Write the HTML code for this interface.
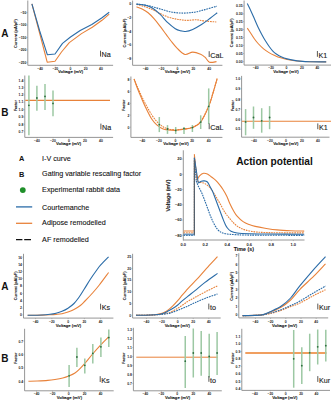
<!DOCTYPE html>
<html><head><meta charset="utf-8"><style>
html,body{margin:0;padding:0;background:#fff;}
body{width:331px;height:400px;overflow:hidden;}
svg{display:block;font-family:"Liberation Sans", sans-serif;}
</style></head><body>
<svg width="331" height="400" viewBox="0 0 331 400">
<rect width="331" height="400" fill="#fff"/>
<path d="M27.8,0.5 V65.3 H113.1" fill="none" stroke="#8a8a8a" stroke-width="0.9"/>
<path d="M26.7,12.6 H27.8" stroke="#8a8a8a" stroke-width="0.5"/>
<text x="26.3" y="13.9" font-size="3.4" text-anchor="end" font-weight="bold" fill="#222222">−50</text>
<path d="M26.7,25.0 H27.8" stroke="#8a8a8a" stroke-width="0.5"/>
<text x="26.3" y="26.3" font-size="3.4" text-anchor="end" font-weight="bold" fill="#222222">−100</text>
<path d="M26.7,37.5 H27.8" stroke="#8a8a8a" stroke-width="0.5"/>
<text x="26.3" y="38.8" font-size="3.4" text-anchor="end" font-weight="bold" fill="#222222">−150</text>
<path d="M26.7,50.0 H27.8" stroke="#8a8a8a" stroke-width="0.5"/>
<text x="26.3" y="51.3" font-size="3.4" text-anchor="end" font-weight="bold" fill="#222222">−200</text>
<path d="M26.7,62.3 H27.8" stroke="#8a8a8a" stroke-width="0.5"/>
<text x="26.3" y="63.6" font-size="3.4" text-anchor="end" font-weight="bold" fill="#222222">−250</text>
<path d="M40.1,65.3 V66.39999999999999" stroke="#8a8a8a" stroke-width="0.5"/>
<text x="40.1" y="69.6" font-size="3.4" text-anchor="middle" font-weight="bold" fill="#222222">−40</text>
<path d="M55.3,65.3 V66.39999999999999" stroke="#8a8a8a" stroke-width="0.5"/>
<text x="55.3" y="69.6" font-size="3.4" text-anchor="middle" font-weight="bold" fill="#222222">−20</text>
<path d="M70.5,65.3 V66.39999999999999" stroke="#8a8a8a" stroke-width="0.5"/>
<text x="70.5" y="69.6" font-size="3.4" text-anchor="middle" font-weight="bold" fill="#222222">0</text>
<path d="M85.7,65.3 V66.39999999999999" stroke="#8a8a8a" stroke-width="0.5"/>
<text x="85.7" y="69.6" font-size="3.4" text-anchor="middle" font-weight="bold" fill="#222222">20</text>
<path d="M100.9,65.3 V66.39999999999999" stroke="#8a8a8a" stroke-width="0.5"/>
<text x="100.9" y="69.6" font-size="3.4" text-anchor="middle" font-weight="bold" fill="#222222">40</text>
<text x="0" y="0" font-size="3.9" font-weight="bold" fill="#151515" stroke="#151515" stroke-width="0.08" text-anchor="middle" transform="translate(16.65,33.5) rotate(-90)">Current (pA/pF)</text>
<text x="70.6" y="73.4" font-size="4.2" text-anchor="middle" font-weight="bold" fill="#151515" stroke="#151515" stroke-width="0.08">Voltage (mV)</text>
<path d="M31.90,3.90 L39.60,33.00 L47.20,62.20 L55.00,61.20 L61.50,52.00 L69.30,42.60 L81.50,33.60 L92.30,27.20 L102.00,20.30 L109.20,14.10" fill="none" stroke="#e8823a" stroke-width="1.1" stroke-linejoin="round"/>
<path d="M31.90,3.90 L39.70,31.00 L47.40,54.80 L55.00,54.00 L62.50,43.40 L70.50,37.00 L80.20,30.50 L91.80,24.50 L102.00,17.80 L109.20,12.30" fill="none" stroke="#2b6ca8" stroke-width="1.1" stroke-linejoin="round"/>
<path d="M100.50,50.70 V56.50" stroke="#3a3a3a" stroke-width="0.85"/>
<text x="101.6" y="57.3" font-size="7.2" text-anchor="start" font-weight="normal" fill="#1c1c1c" stroke="#1c1c1c" stroke-width="0.12">Na</text>
<path d="M132.6,0.5 V65.3 H222.4" fill="none" stroke="#8a8a8a" stroke-width="0.9"/>
<path d="M131.5,4.0 H132.6" stroke="#8a8a8a" stroke-width="0.5"/>
<text x="131.1" y="5.3" font-size="3.4" text-anchor="end" font-weight="bold" fill="#222222">0</text>
<path d="M131.5,17.5 H132.6" stroke="#8a8a8a" stroke-width="0.5"/>
<text x="131.1" y="18.8" font-size="3.4" text-anchor="end" font-weight="bold" fill="#222222">−2</text>
<path d="M131.5,31.2 H132.6" stroke="#8a8a8a" stroke-width="0.5"/>
<text x="131.1" y="32.5" font-size="3.4" text-anchor="end" font-weight="bold" fill="#222222">−4</text>
<path d="M131.5,44.8 H132.6" stroke="#8a8a8a" stroke-width="0.5"/>
<text x="131.1" y="46.1" font-size="3.4" text-anchor="end" font-weight="bold" fill="#222222">−6</text>
<path d="M131.5,58.4 H132.6" stroke="#8a8a8a" stroke-width="0.5"/>
<text x="131.1" y="59.7" font-size="3.4" text-anchor="end" font-weight="bold" fill="#222222">−8</text>
<path d="M145.6,65.3 V66.39999999999999" stroke="#8a8a8a" stroke-width="0.5"/>
<text x="145.6" y="69.6" font-size="3.4" text-anchor="middle" font-weight="bold" fill="#222222">−40</text>
<path d="M161.5,65.3 V66.39999999999999" stroke="#8a8a8a" stroke-width="0.5"/>
<text x="161.5" y="69.6" font-size="3.4" text-anchor="middle" font-weight="bold" fill="#222222">−20</text>
<path d="M177.4,65.3 V66.39999999999999" stroke="#8a8a8a" stroke-width="0.5"/>
<text x="177.4" y="69.6" font-size="3.4" text-anchor="middle" font-weight="bold" fill="#222222">0</text>
<path d="M193.3,65.3 V66.39999999999999" stroke="#8a8a8a" stroke-width="0.5"/>
<text x="193.3" y="69.6" font-size="3.4" text-anchor="middle" font-weight="bold" fill="#222222">20</text>
<path d="M209.2,65.3 V66.39999999999999" stroke="#8a8a8a" stroke-width="0.5"/>
<text x="209.2" y="69.6" font-size="3.4" text-anchor="middle" font-weight="bold" fill="#222222">40</text>
<text x="0" y="0" font-size="3.9" font-weight="bold" fill="#151515" stroke="#151515" stroke-width="0.08" text-anchor="middle" transform="translate(125.7,33.0) rotate(-90)">Current (pA/pF)</text>
<text x="177.5" y="73.4" font-size="4.2" text-anchor="middle" font-weight="bold" fill="#151515" stroke="#151515" stroke-width="0.08">Voltage (mV)</text>
<path d="M136.50,4.30 C137.93,4.72 142.40,5.88 145.10,6.80 C147.80,7.72 150.18,8.67 152.70,9.80 C155.22,10.93 157.68,12.42 160.20,13.60 C162.72,14.78 165.28,16.02 167.80,16.90 C170.32,17.78 173.10,18.42 175.30,18.90 C177.50,19.38 178.97,19.55 181.00,19.80 C183.03,20.05 184.97,20.40 187.50,20.40 C190.03,20.40 193.28,19.70 196.20,19.80 C199.12,19.90 201.65,20.63 205.00,21.00 C208.35,21.37 214.42,21.83 216.30,22.00" fill="none" stroke="#e8823a" stroke-width="1.1" stroke-dasharray="1.7,0.85" stroke-linejoin="round"/>
<path d="M136.50,6.80 C137.43,7.18 140.17,8.10 142.10,9.10 C144.03,10.10 146.08,11.17 148.10,12.80 C150.12,14.43 152.18,16.63 154.20,18.90 C156.22,21.17 158.18,23.77 160.20,26.40 C162.22,29.03 164.50,32.27 166.30,34.70 C168.10,37.13 169.22,38.77 171.00,41.00 C172.78,43.23 174.68,45.85 177.00,48.10 C179.32,50.35 182.28,53.83 184.90,54.50 C187.52,55.17 190.08,52.15 192.70,52.10 C195.32,52.05 198.55,53.35 200.60,54.20 C202.65,55.05 203.52,55.87 205.00,57.20 C206.48,58.53 207.58,61.47 209.50,62.20 C211.42,62.93 215.33,61.70 216.50,61.60" fill="none" stroke="#e8823a" stroke-width="1.1" stroke-linejoin="round"/>
<path d="M136.50,4.10 C137.93,4.25 142.40,4.55 145.10,5.00 C147.80,5.45 150.18,6.13 152.70,6.80 C155.22,7.47 157.68,8.27 160.20,9.00 C162.72,9.73 165.28,10.60 167.80,11.20 C170.32,11.80 172.77,12.28 175.30,12.60 C177.83,12.92 180.55,13.08 183.00,13.10 C185.45,13.12 187.80,12.90 190.00,12.70 C192.20,12.50 193.70,12.42 196.20,11.90 C198.70,11.38 201.53,10.55 205.00,9.60 C208.47,8.65 215.00,6.77 217.00,6.20" fill="none" stroke="#2b6ca8" stroke-width="1.1" stroke-dasharray="1.7,0.85" stroke-linejoin="round"/>
<path d="M136.50,4.10 C137.93,4.30 142.40,4.60 145.10,5.30 C147.80,6.00 150.18,6.78 152.70,8.30 C155.22,9.82 157.68,12.00 160.20,14.40 C162.72,16.80 165.28,20.32 167.80,22.70 C170.32,25.08 173.10,27.33 175.30,28.70 C177.50,30.07 179.30,30.43 181.00,30.90 C182.70,31.37 183.55,31.75 185.50,31.50 C187.45,31.25 190.03,30.57 192.70,29.40 C195.37,28.23 198.58,26.37 201.50,24.50 C204.42,22.63 207.58,20.15 210.20,18.20 C212.82,16.25 216.03,13.70 217.20,12.80" fill="none" stroke="#2b6ca8" stroke-width="1.1" stroke-linejoin="round"/>
<path d="M209.20,51.20 V57.00" stroke="#3a3a3a" stroke-width="0.85"/>
<text x="210.3" y="57.8" font-size="7.2" text-anchor="start" font-weight="normal" fill="#1c1c1c" stroke="#1c1c1c" stroke-width="0.12">CaL</text>
<path d="M244.1,0.5 V65.1 H331" fill="none" stroke="#8a8a8a" stroke-width="0.9"/>
<path d="M243.0,5.9 H244.1" stroke="#8a8a8a" stroke-width="0.5"/>
<text x="242.6" y="7.2" font-size="3.4" text-anchor="end" font-weight="bold" fill="#222222">0.35</text>
<path d="M243.0,13.9 H244.1" stroke="#8a8a8a" stroke-width="0.5"/>
<text x="242.6" y="15.2" font-size="3.4" text-anchor="end" font-weight="bold" fill="#222222">0.30</text>
<path d="M243.0,21.6 H244.1" stroke="#8a8a8a" stroke-width="0.5"/>
<text x="242.6" y="22.9" font-size="3.4" text-anchor="end" font-weight="bold" fill="#222222">0.25</text>
<path d="M243.0,29.6 H244.1" stroke="#8a8a8a" stroke-width="0.5"/>
<text x="242.6" y="30.9" font-size="3.4" text-anchor="end" font-weight="bold" fill="#222222">0.20</text>
<path d="M243.0,37.5 H244.1" stroke="#8a8a8a" stroke-width="0.5"/>
<text x="242.6" y="38.8" font-size="3.4" text-anchor="end" font-weight="bold" fill="#222222">0.15</text>
<path d="M243.0,45.4 H244.1" stroke="#8a8a8a" stroke-width="0.5"/>
<text x="242.6" y="46.7" font-size="3.4" text-anchor="end" font-weight="bold" fill="#222222">0.10</text>
<path d="M243.0,53.5 H244.1" stroke="#8a8a8a" stroke-width="0.5"/>
<text x="242.6" y="54.8" font-size="3.4" text-anchor="end" font-weight="bold" fill="#222222">0.05</text>
<path d="M243.0,61.7 H244.1" stroke="#8a8a8a" stroke-width="0.5"/>
<text x="242.6" y="63.0" font-size="3.4" text-anchor="end" font-weight="bold" fill="#222222">0.00</text>
<path d="M255.7,65.1 V66.19999999999999" stroke="#8a8a8a" stroke-width="0.5"/>
<text x="255.7" y="69.4" font-size="3.4" text-anchor="middle" font-weight="bold" fill="#222222">−40</text>
<path d="M271.1,65.1 V66.19999999999999" stroke="#8a8a8a" stroke-width="0.5"/>
<text x="271.1" y="69.4" font-size="3.4" text-anchor="middle" font-weight="bold" fill="#222222">−20</text>
<path d="M286.5,65.1 V66.19999999999999" stroke="#8a8a8a" stroke-width="0.5"/>
<text x="286.5" y="69.4" font-size="3.4" text-anchor="middle" font-weight="bold" fill="#222222">0</text>
<path d="M301.9,65.1 V66.19999999999999" stroke="#8a8a8a" stroke-width="0.5"/>
<text x="301.9" y="69.4" font-size="3.4" text-anchor="middle" font-weight="bold" fill="#222222">20</text>
<path d="M317.3,65.1 V66.19999999999999" stroke="#8a8a8a" stroke-width="0.5"/>
<text x="317.3" y="69.4" font-size="3.4" text-anchor="middle" font-weight="bold" fill="#222222">40</text>
<text x="0" y="0" font-size="3.9" font-weight="bold" fill="#151515" stroke="#151515" stroke-width="0.08" text-anchor="middle" transform="translate(233.4,32.8) rotate(-90)">Current (pA/pF)</text>
<text x="286.0" y="73.4" font-size="4.2" text-anchor="middle" font-weight="bold" fill="#151515" stroke="#151515" stroke-width="0.08">Voltage (mV)</text>
<path d="M247.30,28.10 C247.90,29.00 249.70,31.68 250.90,33.50 C252.10,35.32 253.30,37.33 254.50,39.00 C255.70,40.67 256.58,41.85 258.10,43.50 C259.62,45.15 261.78,47.38 263.60,48.90 C265.42,50.42 267.20,51.53 269.00,52.60 C270.80,53.67 272.58,54.47 274.40,55.30 C276.22,56.13 277.78,56.90 279.90,57.60 C282.02,58.30 284.68,58.98 287.10,59.50 C289.52,60.02 292.25,60.40 294.40,60.70 C296.55,61.00 297.40,61.13 300.00,61.30 C302.60,61.47 305.63,61.60 310.00,61.70 C314.37,61.80 323.50,61.87 326.20,61.90" fill="none" stroke="#e8823a" stroke-width="1.1" stroke-linejoin="round"/>
<path d="M247.30,3.60 C247.90,4.82 249.70,8.33 250.90,10.90 C252.10,13.47 253.30,16.28 254.50,19.00 C255.70,21.72 256.88,24.63 258.10,27.20 C259.32,29.77 260.58,32.13 261.80,34.40 C263.02,36.67 264.20,38.83 265.40,40.80 C266.60,42.77 267.80,44.53 269.00,46.20 C270.20,47.87 271.38,49.50 272.60,50.80 C273.82,52.10 274.78,52.95 276.30,54.00 C277.82,55.05 279.90,56.28 281.70,57.10 C283.50,57.92 284.98,58.35 287.10,58.90 C289.22,59.45 292.25,60.03 294.40,60.40 C296.55,60.77 297.40,60.88 300.00,61.10 C302.60,61.32 305.63,61.57 310.00,61.70 C314.37,61.83 323.50,61.87 326.20,61.90" fill="none" stroke="#2b6ca8" stroke-width="1.1" stroke-linejoin="round"/>
<path d="M317.40,51.00 V56.80" stroke="#3a3a3a" stroke-width="0.85"/>
<text x="318.5" y="57.6" font-size="7.2" text-anchor="start" font-weight="normal" fill="#1c1c1c" stroke="#1c1c1c" stroke-width="0.12">K1</text>
<path d="M24.8,75.5 V137.4 H113.1" fill="none" stroke="#8a8a8a" stroke-width="0.9"/>
<path d="M23.7,80.2 H24.8" stroke="#8a8a8a" stroke-width="0.5"/>
<text x="23.3" y="81.5" font-size="3.4" text-anchor="end" font-weight="bold" fill="#222222">1.4</text>
<path d="M23.7,87.6 H24.8" stroke="#8a8a8a" stroke-width="0.5"/>
<text x="23.3" y="88.9" font-size="3.4" text-anchor="end" font-weight="bold" fill="#222222">1.3</text>
<path d="M23.7,94.9 H24.8" stroke="#8a8a8a" stroke-width="0.5"/>
<text x="23.3" y="96.2" font-size="3.4" text-anchor="end" font-weight="bold" fill="#222222">1.2</text>
<path d="M23.7,102.1 H24.8" stroke="#8a8a8a" stroke-width="0.5"/>
<text x="23.3" y="103.4" font-size="3.4" text-anchor="end" font-weight="bold" fill="#222222">1.1</text>
<path d="M23.7,109.6 H24.8" stroke="#8a8a8a" stroke-width="0.5"/>
<text x="23.3" y="110.9" font-size="3.4" text-anchor="end" font-weight="bold" fill="#222222">1.0</text>
<path d="M23.7,117.1 H24.8" stroke="#8a8a8a" stroke-width="0.5"/>
<text x="23.3" y="118.4" font-size="3.4" text-anchor="end" font-weight="bold" fill="#222222">0.9</text>
<path d="M23.7,124.3 H24.8" stroke="#8a8a8a" stroke-width="0.5"/>
<text x="23.3" y="125.6" font-size="3.4" text-anchor="end" font-weight="bold" fill="#222222">0.8</text>
<path d="M23.7,131.7 H24.8" stroke="#8a8a8a" stroke-width="0.5"/>
<text x="23.3" y="133.0" font-size="3.4" text-anchor="end" font-weight="bold" fill="#222222">0.7</text>
<path d="M37.0,137.4 V138.5" stroke="#8a8a8a" stroke-width="0.5"/>
<text x="37.0" y="141.7" font-size="3.4" text-anchor="middle" font-weight="bold" fill="#222222">−40</text>
<path d="M53.0,137.4 V138.5" stroke="#8a8a8a" stroke-width="0.5"/>
<text x="53.0" y="141.7" font-size="3.4" text-anchor="middle" font-weight="bold" fill="#222222">−20</text>
<path d="M69.0,137.4 V138.5" stroke="#8a8a8a" stroke-width="0.5"/>
<text x="69.0" y="141.7" font-size="3.4" text-anchor="middle" font-weight="bold" fill="#222222">0</text>
<path d="M85.0,137.4 V138.5" stroke="#8a8a8a" stroke-width="0.5"/>
<text x="85.0" y="141.7" font-size="3.4" text-anchor="middle" font-weight="bold" fill="#222222">20</text>
<path d="M101.0,137.4 V138.5" stroke="#8a8a8a" stroke-width="0.5"/>
<text x="101.0" y="141.7" font-size="3.4" text-anchor="middle" font-weight="bold" fill="#222222">40</text>
<text x="0" y="0" font-size="3.6" font-weight="bold" fill="#151515" stroke="#151515" stroke-width="0.08" text-anchor="middle" transform="translate(16.55,105.6) rotate(-90)">Factor</text>
<text x="68.6" y="145.2" font-size="4.2" text-anchor="middle" font-weight="bold" fill="#151515" stroke="#151515" stroke-width="0.08">Voltage (mV)</text>
<path d="M25.3,100.4 H110" stroke="#e8823a" stroke-width="1.1"/>
<path d="M28.9,75.5 V135.3" stroke="#9cc8a3" stroke-width="1.5"/>
<circle cx="28.9" cy="105.3" r="0.9" fill="#2d6e3e"/>
<path d="M36.9,85.8 V110.8" stroke="#9cc8a3" stroke-width="1.5"/>
<circle cx="36.9" cy="98.0" r="0.9" fill="#2d6e3e"/>
<path d="M45.0,84.0 V110.0" stroke="#9cc8a3" stroke-width="1.5"/>
<circle cx="45.0" cy="96.4" r="0.9" fill="#2d6e3e"/>
<path d="M53.0,90.5 V116.2" stroke="#9cc8a3" stroke-width="1.5"/>
<circle cx="53.0" cy="103.4" r="0.9" fill="#2d6e3e"/>
<path d="M100.90,123.60 V129.40" stroke="#3a3a3a" stroke-width="0.85"/>
<text x="102.0" y="130.2" font-size="7.2" text-anchor="start" font-weight="normal" fill="#1c1c1c" stroke="#1c1c1c" stroke-width="0.12">Na</text>
<path d="M130.9,76.5 V137.4 H222.4" fill="none" stroke="#8a8a8a" stroke-width="0.9"/>
<path d="M129.8,79.4 H130.9" stroke="#8a8a8a" stroke-width="0.5"/>
<text x="129.4" y="80.7" font-size="3.4" text-anchor="end" font-weight="bold" fill="#222222">8</text>
<path d="M129.8,91.5 H130.9" stroke="#8a8a8a" stroke-width="0.5"/>
<text x="129.4" y="92.8" font-size="3.4" text-anchor="end" font-weight="bold" fill="#222222">6</text>
<path d="M129.8,103.4 H130.9" stroke="#8a8a8a" stroke-width="0.5"/>
<text x="129.4" y="104.7" font-size="3.4" text-anchor="end" font-weight="bold" fill="#222222">4</text>
<path d="M129.8,115.2 H130.9" stroke="#8a8a8a" stroke-width="0.5"/>
<text x="129.4" y="116.5" font-size="3.4" text-anchor="end" font-weight="bold" fill="#222222">2</text>
<path d="M129.8,127.2 H130.9" stroke="#8a8a8a" stroke-width="0.5"/>
<text x="129.4" y="128.5" font-size="3.4" text-anchor="end" font-weight="bold" fill="#222222">0</text>
<path d="M142.3,137.4 V138.5" stroke="#8a8a8a" stroke-width="0.5"/>
<text x="142.3" y="141.7" font-size="3.4" text-anchor="middle" font-weight="bold" fill="#222222">−40</text>
<path d="M158.9,137.4 V138.5" stroke="#8a8a8a" stroke-width="0.5"/>
<text x="158.9" y="141.7" font-size="3.4" text-anchor="middle" font-weight="bold" fill="#222222">−20</text>
<path d="M175.5,137.4 V138.5" stroke="#8a8a8a" stroke-width="0.5"/>
<text x="175.5" y="141.7" font-size="3.4" text-anchor="middle" font-weight="bold" fill="#222222">0</text>
<path d="M192.1,137.4 V138.5" stroke="#8a8a8a" stroke-width="0.5"/>
<text x="192.1" y="141.7" font-size="3.4" text-anchor="middle" font-weight="bold" fill="#222222">20</text>
<path d="M208.7,137.4 V138.5" stroke="#8a8a8a" stroke-width="0.5"/>
<text x="208.7" y="141.7" font-size="3.4" text-anchor="middle" font-weight="bold" fill="#222222">40</text>
<text x="0" y="0" font-size="3.6" font-weight="bold" fill="#151515" stroke="#151515" stroke-width="0.08" text-anchor="middle" transform="translate(124.9,105.2) rotate(-90)">Factor</text>
<text x="176.0" y="145.2" font-size="4.2" text-anchor="middle" font-weight="bold" fill="#151515" stroke="#151515" stroke-width="0.08">Voltage (mV)</text>
<path d="M134.10,79.00 C134.62,80.25 135.93,83.60 137.20,86.50 C138.47,89.40 140.18,93.23 141.70,96.40 C143.22,99.57 144.63,102.43 146.30,105.50 C147.97,108.57 149.90,112.08 151.70,114.80 C153.50,117.52 155.28,119.85 157.10,121.80 C158.92,123.75 160.78,125.33 162.60,126.50 C164.42,127.67 165.82,128.25 168.00,128.80 C170.18,129.35 173.03,129.77 175.70,129.80 C178.37,129.83 181.22,129.43 184.00,129.00 C186.78,128.57 189.62,128.45 192.40,127.20 C195.18,125.95 197.98,125.03 200.70,121.50 C203.42,117.97 206.65,110.75 208.70,106.00 C210.75,101.25 211.58,97.58 213.00,93.00 C214.42,88.42 216.50,80.92 217.20,78.50" fill="none" stroke="#e8823a" stroke-width="1.1" stroke-dasharray="1.7,0.85" stroke-linejoin="round"/>
<path d="M134.10,79.00 C134.62,80.45 135.93,84.43 137.20,87.70 C138.47,90.97 140.18,95.08 141.70,98.60 C143.22,102.12 144.63,105.40 146.30,108.80 C147.97,112.20 149.90,116.27 151.70,119.00 C153.50,121.73 155.28,123.58 157.10,125.20 C158.92,126.82 160.78,127.92 162.60,128.70 C164.42,129.48 165.82,129.63 168.00,129.90 C170.18,130.17 173.03,130.42 175.70,130.30 C178.37,130.18 181.22,129.65 184.00,129.20 C186.78,128.75 189.62,128.78 192.40,127.60 C195.18,126.42 197.98,125.63 200.70,122.10 C203.42,118.57 206.65,111.25 208.70,106.40 C210.75,101.55 211.58,97.65 213.00,93.00 C214.42,88.35 216.50,80.92 217.20,78.50" fill="none" stroke="#e8823a" stroke-width="1.1" stroke-linejoin="round"/>
<path d="M159.3,117.0 V132.1" stroke="#9cc8a3" stroke-width="1.5"/>
<circle cx="159.3" cy="124.6" r="0.9" fill="#2d6e3e"/>
<path d="M167.5,125.1 V133.9" stroke="#9cc8a3" stroke-width="1.5"/>
<circle cx="167.5" cy="129.0" r="0.9" fill="#2d6e3e"/>
<path d="M175.7,127.0 V134.0" stroke="#9cc8a3" stroke-width="1.5"/>
<circle cx="175.7" cy="130.4" r="0.9" fill="#2d6e3e"/>
<path d="M184.0,127.0 V134.0" stroke="#9cc8a3" stroke-width="1.5"/>
<circle cx="184.0" cy="128.6" r="0.9" fill="#2d6e3e"/>
<path d="M192.4,125.0 V132.0" stroke="#9cc8a3" stroke-width="1.5"/>
<circle cx="192.4" cy="127.6" r="0.9" fill="#2d6e3e"/>
<path d="M200.7,115.3 V129.0" stroke="#9cc8a3" stroke-width="1.5"/>
<circle cx="200.7" cy="122.1" r="0.9" fill="#2d6e3e"/>
<path d="M208.7,88.4 V124.1" stroke="#9cc8a3" stroke-width="1.5"/>
<circle cx="208.7" cy="106.4" r="0.9" fill="#2d6e3e"/>
<path d="M209.20,123.40 V129.20" stroke="#3a3a3a" stroke-width="0.85"/>
<text x="210.3" y="130.0" font-size="7.2" text-anchor="start" font-weight="normal" fill="#1c1c1c" stroke="#1c1c1c" stroke-width="0.12">CaL</text>
<path d="M241.6,75.9 V137.2 H329.5" fill="none" stroke="#8a8a8a" stroke-width="0.9"/>
<path d="M240.5,78.9 H241.6" stroke="#8a8a8a" stroke-width="0.5"/>
<text x="240.1" y="80.2" font-size="3.4" text-anchor="end" font-weight="bold" fill="#222222">1.0</text>
<path d="M240.5,88.8 H241.6" stroke="#8a8a8a" stroke-width="0.5"/>
<text x="240.1" y="90.1" font-size="3.4" text-anchor="end" font-weight="bold" fill="#222222">0.9</text>
<path d="M240.5,99.2 H241.6" stroke="#8a8a8a" stroke-width="0.5"/>
<text x="240.1" y="100.5" font-size="3.4" text-anchor="end" font-weight="bold" fill="#222222">0.8</text>
<path d="M240.5,109.3 H241.6" stroke="#8a8a8a" stroke-width="0.5"/>
<text x="240.1" y="110.6" font-size="3.4" text-anchor="end" font-weight="bold" fill="#222222">0.7</text>
<path d="M240.5,119.2 H241.6" stroke="#8a8a8a" stroke-width="0.5"/>
<text x="240.1" y="120.5" font-size="3.4" text-anchor="end" font-weight="bold" fill="#222222">0.6</text>
<path d="M240.5,129.1 H241.6" stroke="#8a8a8a" stroke-width="0.5"/>
<text x="240.1" y="130.4" font-size="3.4" text-anchor="end" font-weight="bold" fill="#222222">0.5</text>
<path d="M254.0,137.2 V138.29999999999998" stroke="#8a8a8a" stroke-width="0.5"/>
<text x="254.0" y="141.5" font-size="3.4" text-anchor="middle" font-weight="bold" fill="#222222">−40</text>
<path d="M270.0,137.2 V138.29999999999998" stroke="#8a8a8a" stroke-width="0.5"/>
<text x="270.0" y="141.5" font-size="3.4" text-anchor="middle" font-weight="bold" fill="#222222">−20</text>
<path d="M286.0,137.2 V138.29999999999998" stroke="#8a8a8a" stroke-width="0.5"/>
<text x="286.0" y="141.5" font-size="3.4" text-anchor="middle" font-weight="bold" fill="#222222">0</text>
<path d="M302.0,137.2 V138.29999999999998" stroke="#8a8a8a" stroke-width="0.5"/>
<text x="302.0" y="141.5" font-size="3.4" text-anchor="middle" font-weight="bold" fill="#222222">20</text>
<path d="M318.0,137.2 V138.29999999999998" stroke="#8a8a8a" stroke-width="0.5"/>
<text x="318.0" y="141.5" font-size="3.4" text-anchor="middle" font-weight="bold" fill="#222222">40</text>
<text x="0" y="0" font-size="3.6" font-weight="bold" fill="#151515" stroke="#151515" stroke-width="0.08" text-anchor="middle" transform="translate(233.85,105.6) rotate(-90)">Factor</text>
<text x="285.8" y="145.2" font-size="4.2" text-anchor="middle" font-weight="bold" fill="#151515" stroke="#151515" stroke-width="0.08">Voltage (mV)</text>
<path d="M242,121.3 H331" stroke="#e8823a" stroke-width="1.1"/>
<path d="M245.6,109.1 V135.3" stroke="#9cc8a3" stroke-width="1.5"/>
<circle cx="245.6" cy="121.9" r="0.9" fill="#2d6e3e"/>
<path d="M253.5,106.5 V128.8" stroke="#9cc8a3" stroke-width="1.5"/>
<circle cx="253.5" cy="117.5" r="0.9" fill="#2d6e3e"/>
<path d="M261.7,108.2 V132.7" stroke="#9cc8a3" stroke-width="1.5"/>
<circle cx="261.7" cy="120.8" r="0.9" fill="#2d6e3e"/>
<path d="M269.6,106.1 V129.2" stroke="#9cc8a3" stroke-width="1.5"/>
<circle cx="269.6" cy="117.5" r="0.9" fill="#2d6e3e"/>
<path d="M317.80,123.40 V129.20" stroke="#3a3a3a" stroke-width="0.85"/>
<text x="318.9" y="130.0" font-size="7.2" text-anchor="start" font-weight="normal" fill="#1c1c1c" stroke="#1c1c1c" stroke-width="0.12">K1</text>
<text x="21.6" y="161.0" font-size="7.4" text-anchor="middle" font-weight="bold" fill="#111">A</text>
<text x="42.1" y="161.0" font-size="7.2" text-anchor="start" font-weight="normal" fill="#111" stroke="#111" stroke-width="0.1">I-V curve</text>
<text x="21.6" y="177.0" font-size="7.4" text-anchor="middle" font-weight="bold" fill="#111">B</text>
<text x="42.1" y="176.3" font-size="7.2" text-anchor="start" font-weight="normal" fill="#111" stroke="#111" stroke-width="0.1">Gating variable rescaling factor</text>
<circle cx="22.8" cy="190.1" r="2.9" fill="#1f8f2a"/>
<text x="42.1" y="192.4" font-size="7.2" text-anchor="start" font-weight="normal" fill="#111" stroke="#111" stroke-width="0.1">Experimental rabbit data</text>
<path d="M16,206.9 H32.2" stroke="#2b6ca8" stroke-width="1.3"/>
<text x="42.1" y="209.6" font-size="7.2" text-anchor="start" font-weight="normal" fill="#111" stroke="#111" stroke-width="0.1">Courtemanche</text>
<path d="M16,223.3 H32.2" stroke="#e8823a" stroke-width="1.3"/>
<text x="42.1" y="225.0" font-size="7.2" text-anchor="start" font-weight="normal" fill="#111" stroke="#111" stroke-width="0.1">Adipose remodelled</text>
<path d="M16,239.6 H22.4 M24.2,239.6 H31" stroke="#111" stroke-width="1.4"/>
<text x="42.1" y="242.0" font-size="7.2" text-anchor="start" font-weight="normal" fill="#111" stroke="#111" stroke-width="0.1">AF remodelled</text>
<path d="M183.3,150.3 V240.0 H304.5" fill="none" stroke="#8a8a8a" stroke-width="0.9"/>
<path d="M182.20000000000002,159.06 H183.3" stroke="#8a8a8a" stroke-width="0.5"/>
<text x="181.8" y="160.46" font-size="4.0" text-anchor="end" font-weight="bold" fill="#222222">20</text>
<path d="M182.20000000000002,174.3 H183.3" stroke="#8a8a8a" stroke-width="0.5"/>
<text x="181.8" y="175.7" font-size="4.0" text-anchor="end" font-weight="bold" fill="#222222">0</text>
<path d="M182.20000000000002,189.54 H183.3" stroke="#8a8a8a" stroke-width="0.5"/>
<text x="181.8" y="190.94" font-size="4.0" text-anchor="end" font-weight="bold" fill="#222222">−20</text>
<path d="M182.20000000000002,204.78 H183.3" stroke="#8a8a8a" stroke-width="0.5"/>
<text x="181.8" y="206.18" font-size="4.0" text-anchor="end" font-weight="bold" fill="#222222">−40</text>
<path d="M182.20000000000002,220.02 H183.3" stroke="#8a8a8a" stroke-width="0.5"/>
<text x="181.8" y="221.42" font-size="4.0" text-anchor="end" font-weight="bold" fill="#222222">−60</text>
<path d="M182.20000000000002,235.26 H183.3" stroke="#8a8a8a" stroke-width="0.5"/>
<text x="181.8" y="236.66" font-size="4.0" text-anchor="end" font-weight="bold" fill="#222222">−80</text>
<path d="M183.3,240.0 V241.1" stroke="#8a8a8a" stroke-width="0.5"/>
<text x="183.3" y="246.0" font-size="4.0" text-anchor="middle" font-weight="bold" fill="#222222">0.0</text>
<path d="M205.3,240.0 V241.1" stroke="#8a8a8a" stroke-width="0.5"/>
<text x="205.3" y="246.0" font-size="4.0" text-anchor="middle" font-weight="bold" fill="#222222">0.2</text>
<path d="M227.3,240.0 V241.1" stroke="#8a8a8a" stroke-width="0.5"/>
<text x="227.3" y="246.0" font-size="4.0" text-anchor="middle" font-weight="bold" fill="#222222">0.4</text>
<path d="M249.3,240.0 V241.1" stroke="#8a8a8a" stroke-width="0.5"/>
<text x="249.3" y="246.0" font-size="4.0" text-anchor="middle" font-weight="bold" fill="#222222">0.6</text>
<path d="M271.3,240.0 V241.1" stroke="#8a8a8a" stroke-width="0.5"/>
<text x="271.3" y="246.0" font-size="4.0" text-anchor="middle" font-weight="bold" fill="#222222">0.8</text>
<path d="M293.3,240.0 V241.1" stroke="#8a8a8a" stroke-width="0.5"/>
<text x="293.3" y="246.0" font-size="4.0" text-anchor="middle" font-weight="bold" fill="#222222">1.0</text>
<text x="0" y="0" font-size="5.3" font-weight="bold" fill="#151515" stroke="#151515" stroke-width="0.08" text-anchor="middle" transform="translate(170.2,195.6) rotate(-90)">Voltage (mV)</text>
<text x="243.8" y="251.3" font-size="5.3" text-anchor="middle" font-weight="bold" fill="#151515" stroke="#151515" stroke-width="0.08">Time (s)</text>
<text x="236.3" y="165.2" font-size="10.15" text-anchor="start" font-weight="bold" fill="#111">Action potential</text>
<path d="M183.50,232.80 L194.40,232.80 L194.40,157.80 L197.40,181.50" fill="none" stroke="#e8823a" stroke-width="1.0" stroke-dasharray="1.7,0.85"/>
<path d="M197.40,181.50 C197.92,181.65 199.23,182.05 200.50,182.40 C201.77,182.75 203.25,182.50 205.00,183.60 C206.75,184.70 208.75,186.10 211.00,189.00 C213.25,191.90 216.17,197.08 218.50,201.00 C220.83,204.92 223.12,209.57 225.00,212.50 C226.88,215.43 228.18,216.68 229.80,218.60 C231.42,220.52 233.08,222.50 234.70,224.00 C236.32,225.50 237.70,226.60 239.50,227.60 C241.30,228.60 242.88,229.28 245.50,230.00 C248.12,230.72 251.95,231.48 255.20,231.90 C258.45,232.32 260.87,232.35 265.00,232.50 C269.13,232.65 273.47,232.73 280.00,232.80 C286.53,232.87 300.17,232.88 304.20,232.90" fill="none" stroke="#e8823a" stroke-width="1.1" stroke-dasharray="1.7,0.85" stroke-linejoin="round"/>
<path d="M183.50,231.00 L194.40,231.00 L194.40,154.40 L197.00,180.00" fill="none" stroke="#e8823a" stroke-width="1.0"/>
<path d="M197.00,180.00 C197.47,179.27 198.70,176.72 199.80,175.60 C200.90,174.48 202.33,173.55 203.60,173.30 C204.87,173.05 206.15,173.53 207.40,174.10 C208.65,174.67 209.75,175.68 211.10,176.70 C212.45,177.72 214.10,178.88 215.50,180.20 C216.90,181.52 218.25,183.05 219.50,184.60 C220.75,186.15 221.78,187.57 223.00,189.50 C224.22,191.43 225.67,193.87 226.80,196.20 C227.93,198.53 228.68,201.08 229.80,203.50 C230.92,205.92 232.28,208.60 233.50,210.70 C234.72,212.80 235.50,214.28 237.10,216.10 C238.70,217.92 241.08,220.18 243.10,221.60 C245.12,223.02 247.18,223.80 249.20,224.60 C251.22,225.40 252.57,225.80 255.20,226.40 C257.83,227.00 261.37,227.62 265.00,228.20 C268.63,228.78 272.67,229.47 277.00,229.90 C281.33,230.33 286.47,230.60 291.00,230.80 C295.53,231.00 302.00,231.05 304.20,231.10" fill="none" stroke="#e8823a" stroke-width="1.1" stroke-linejoin="round"/>
<path d="M183.50,235.40 L194.40,235.40 L194.40,157.80 L196.20,181.00" fill="none" stroke="#2b6ca8" stroke-width="1.0" stroke-dasharray="1.7,0.85"/>
<path d="M196.20,181.00 C196.50,181.75 197.03,183.42 198.00,185.50 C198.97,187.58 200.58,190.20 202.00,193.50 C203.42,196.80 205.00,201.33 206.50,205.30 C208.00,209.27 209.50,213.78 211.00,217.30 C212.50,220.82 214.00,224.02 215.50,226.40 C217.00,228.78 218.25,230.37 220.00,231.60 C221.75,232.83 223.50,233.30 226.00,233.80 C228.50,234.30 231.00,234.38 235.00,234.60 C239.00,234.82 238.47,234.97 250.00,235.10 C261.53,235.23 295.17,235.35 304.20,235.40" fill="none" stroke="#2b6ca8" stroke-width="1.1" stroke-dasharray="1.7,0.85" stroke-linejoin="round"/>
<path d="M183.50,234.20 L194.40,234.20 L194.40,157.80 L198.30,183.10" fill="none" stroke="#2b6ca8" stroke-width="1.0"/>
<path d="M198.30,183.10 C198.80,182.78 200.28,181.57 201.30,181.20 C202.32,180.83 203.38,180.77 204.40,180.90 C205.42,181.03 206.55,181.22 207.40,182.00 C208.25,182.78 208.73,184.22 209.50,185.60 C210.27,186.98 211.25,188.73 212.00,190.30 C212.75,191.87 212.92,192.22 214.00,195.00 C215.08,197.78 217.00,203.00 218.50,207.00 C220.00,211.00 221.92,216.20 223.00,219.00 C224.08,221.80 224.27,222.30 225.00,223.80 C225.73,225.30 226.40,226.75 227.40,228.00 C228.40,229.25 229.38,230.47 231.00,231.30 C232.62,232.13 233.93,232.58 237.10,233.00 C240.27,233.42 245.35,233.63 250.00,233.80 C254.65,233.97 255.97,233.93 265.00,234.00 C274.03,234.07 297.67,234.17 304.20,234.20" fill="none" stroke="#2b6ca8" stroke-width="1.1" stroke-linejoin="round"/>
<path d="M194.4,160 V235" stroke="#5d5d5d" stroke-width="0.9"/>
<path d="M23.5,253.8 V318.1 H113.4" fill="none" stroke="#8a8a8a" stroke-width="0.9"/>
<path d="M22.4,257.2 H23.5" stroke="#8a8a8a" stroke-width="0.5"/>
<text x="22.0" y="258.5" font-size="3.4" text-anchor="end" font-weight="bold" fill="#222222">16</text>
<path d="M22.4,264.3 H23.5" stroke="#8a8a8a" stroke-width="0.5"/>
<text x="22.0" y="265.6" font-size="3.4" text-anchor="end" font-weight="bold" fill="#222222">14</text>
<path d="M22.4,271.5 H23.5" stroke="#8a8a8a" stroke-width="0.5"/>
<text x="22.0" y="272.8" font-size="3.4" text-anchor="end" font-weight="bold" fill="#222222">12</text>
<path d="M22.4,278.5 H23.5" stroke="#8a8a8a" stroke-width="0.5"/>
<text x="22.0" y="279.8" font-size="3.4" text-anchor="end" font-weight="bold" fill="#222222">10</text>
<path d="M22.4,286.0 H23.5" stroke="#8a8a8a" stroke-width="0.5"/>
<text x="22.0" y="287.3" font-size="3.4" text-anchor="end" font-weight="bold" fill="#222222">8</text>
<path d="M22.4,293.5 H23.5" stroke="#8a8a8a" stroke-width="0.5"/>
<text x="22.0" y="294.8" font-size="3.4" text-anchor="end" font-weight="bold" fill="#222222">6</text>
<path d="M22.4,301.0 H23.5" stroke="#8a8a8a" stroke-width="0.5"/>
<text x="22.0" y="302.3" font-size="3.4" text-anchor="end" font-weight="bold" fill="#222222">4</text>
<path d="M22.4,308.1 H23.5" stroke="#8a8a8a" stroke-width="0.5"/>
<text x="22.0" y="309.4" font-size="3.4" text-anchor="end" font-weight="bold" fill="#222222">2</text>
<path d="M22.4,314.9 H23.5" stroke="#8a8a8a" stroke-width="0.5"/>
<text x="22.0" y="316.2" font-size="3.4" text-anchor="end" font-weight="bold" fill="#222222">0</text>
<path d="M35.6,318.1 V319.20000000000005" stroke="#8a8a8a" stroke-width="0.5"/>
<text x="35.6" y="323" font-size="3.4" text-anchor="middle" font-weight="bold" fill="#222222">−40</text>
<path d="M51.85,318.1 V319.20000000000005" stroke="#8a8a8a" stroke-width="0.5"/>
<text x="51.85" y="323" font-size="3.4" text-anchor="middle" font-weight="bold" fill="#222222">−20</text>
<path d="M68.1,318.1 V319.20000000000005" stroke="#8a8a8a" stroke-width="0.5"/>
<text x="68.1" y="323" font-size="3.4" text-anchor="middle" font-weight="bold" fill="#222222">0</text>
<path d="M84.35,318.1 V319.20000000000005" stroke="#8a8a8a" stroke-width="0.5"/>
<text x="84.35" y="323" font-size="3.4" text-anchor="middle" font-weight="bold" fill="#222222">20</text>
<path d="M100.6,318.1 V319.20000000000005" stroke="#8a8a8a" stroke-width="0.5"/>
<text x="100.6" y="323" font-size="3.4" text-anchor="middle" font-weight="bold" fill="#222222">40</text>
<text x="0" y="0" font-size="3.9" font-weight="bold" fill="#151515" stroke="#151515" stroke-width="0.08" text-anchor="middle" transform="translate(17.25,285.9) rotate(-90)">Current (pA/pF)</text>
<text x="68.5" y="326.8" font-size="4.2" text-anchor="middle" font-weight="bold" fill="#151515" stroke="#151515" stroke-width="0.08">Voltage (mV)</text>
<path d="M27.60,315.30 C29.97,315.27 38.07,315.18 41.80,315.10 C45.53,315.02 47.63,314.92 50.00,314.80 C52.37,314.68 54.00,314.58 56.00,314.40 C58.00,314.22 60.00,314.12 62.00,313.70 C64.00,313.28 66.00,312.62 68.00,311.90 C70.00,311.18 72.00,310.42 74.00,309.40 C76.00,308.38 78.17,307.20 80.00,305.80 C81.83,304.40 82.83,303.22 85.00,301.00 C87.17,298.78 90.62,295.17 93.00,292.50 C95.38,289.83 96.70,288.33 99.30,285.00 C101.90,281.67 107.05,274.58 108.60,272.50" fill="none" stroke="#e8823a" stroke-width="1.1" stroke-linejoin="round"/>
<path d="M27.60,315.30 C29.97,315.25 38.07,315.17 41.80,315.00 C45.53,314.83 47.63,314.60 50.00,314.30 C52.37,314.00 54.00,313.70 56.00,313.20 C58.00,312.70 60.00,312.13 62.00,311.30 C64.00,310.47 66.00,309.50 68.00,308.20 C70.00,306.90 72.17,305.32 74.00,303.50 C75.83,301.68 77.28,299.72 79.00,297.30 C80.72,294.88 82.38,292.05 84.30,289.00 C86.22,285.95 88.42,282.17 90.50,279.00 C92.58,275.83 95.13,272.30 96.80,270.00 C98.47,267.70 98.53,267.38 100.50,265.20 C102.47,263.02 107.25,258.28 108.60,256.90" fill="none" stroke="#2b6ca8" stroke-width="1.1" stroke-linejoin="round"/>
<path d="M100.60,303.70 V309.50" stroke="#3a3a3a" stroke-width="0.85"/>
<text x="101.7" y="310.3" font-size="7.2" text-anchor="start" font-weight="normal" fill="#1c1c1c" stroke="#1c1c1c" stroke-width="0.12">Ks</text>
<path d="M132.6,253.8 V318.0 H220.7" fill="none" stroke="#8a8a8a" stroke-width="0.9"/>
<path d="M131.5,257.0 H132.6" stroke="#8a8a8a" stroke-width="0.5"/>
<text x="131.1" y="258.3" font-size="3.4" text-anchor="end" font-weight="bold" fill="#222222">25</text>
<path d="M131.5,268.5 H132.6" stroke="#8a8a8a" stroke-width="0.5"/>
<text x="131.1" y="269.8" font-size="3.4" text-anchor="end" font-weight="bold" fill="#222222">20</text>
<path d="M131.5,280.0 H132.6" stroke="#8a8a8a" stroke-width="0.5"/>
<text x="131.1" y="281.3" font-size="3.4" text-anchor="end" font-weight="bold" fill="#222222">15</text>
<path d="M131.5,291.8 H132.6" stroke="#8a8a8a" stroke-width="0.5"/>
<text x="131.1" y="293.1" font-size="3.4" text-anchor="end" font-weight="bold" fill="#222222">10</text>
<path d="M131.5,303.5 H132.6" stroke="#8a8a8a" stroke-width="0.5"/>
<text x="131.1" y="304.8" font-size="3.4" text-anchor="end" font-weight="bold" fill="#222222">5</text>
<path d="M131.5,315.2 H132.6" stroke="#8a8a8a" stroke-width="0.5"/>
<text x="131.1" y="316.5" font-size="3.4" text-anchor="end" font-weight="bold" fill="#222222">0</text>
<path d="M146.4,318.0 V319.1" stroke="#8a8a8a" stroke-width="0.5"/>
<text x="146.4" y="323" font-size="3.4" text-anchor="middle" font-weight="bold" fill="#222222">−40</text>
<path d="M162.0,318.0 V319.1" stroke="#8a8a8a" stroke-width="0.5"/>
<text x="162.0" y="323" font-size="3.4" text-anchor="middle" font-weight="bold" fill="#222222">−20</text>
<path d="M177.6,318.0 V319.1" stroke="#8a8a8a" stroke-width="0.5"/>
<text x="177.6" y="323" font-size="3.4" text-anchor="middle" font-weight="bold" fill="#222222">0</text>
<path d="M193.2,318.0 V319.1" stroke="#8a8a8a" stroke-width="0.5"/>
<text x="193.2" y="323" font-size="3.4" text-anchor="middle" font-weight="bold" fill="#222222">20</text>
<path d="M208.8,318.0 V319.1" stroke="#8a8a8a" stroke-width="0.5"/>
<text x="208.8" y="323" font-size="3.4" text-anchor="middle" font-weight="bold" fill="#222222">40</text>
<text x="0" y="0" font-size="3.9" font-weight="bold" fill="#151515" stroke="#151515" stroke-width="0.08" text-anchor="middle" transform="translate(126.0,285.9) rotate(-90)">Current (pA/pF)</text>
<text x="177.3" y="326.8" font-size="4.2" text-anchor="middle" font-weight="bold" fill="#151515" stroke="#151515" stroke-width="0.08">Voltage (mV)</text>
<path d="M136.00,315.30 C137.67,315.28 142.83,315.28 146.00,315.20 C149.17,315.12 152.67,314.93 155.00,314.80 C157.33,314.67 158.33,314.60 160.00,314.40 C161.67,314.20 163.33,313.93 165.00,313.60 C166.67,313.27 167.73,313.38 170.00,312.40 C172.27,311.42 175.65,309.52 178.60,307.70 C181.55,305.88 184.97,303.22 187.70,301.50 C190.43,299.78 192.12,298.98 195.00,297.40 C197.88,295.82 201.25,293.93 205.00,292.00 C208.75,290.07 215.42,286.83 217.50,285.80" fill="none" stroke="#e8823a" stroke-width="1.1" stroke-dasharray="1.7,0.85" stroke-linejoin="round"/>
<path d="M136.00,315.30 C137.67,315.28 142.83,315.28 146.00,315.20 C149.17,315.12 152.67,314.92 155.00,314.80 C157.33,314.68 158.33,314.63 160.00,314.50 C161.67,314.37 163.33,314.23 165.00,314.00 C166.67,313.77 167.83,313.73 170.00,313.10 C172.17,312.47 175.17,311.32 178.00,310.20 C180.83,309.08 184.17,307.65 187.00,306.40 C189.83,305.15 192.00,304.03 195.00,302.70 C198.00,301.37 201.25,299.85 205.00,298.40 C208.75,296.95 215.42,294.73 217.50,294.00" fill="none" stroke="#2b6ca8" stroke-width="1.1" stroke-dasharray="1.7,0.85" stroke-linejoin="round"/>
<path d="M136.00,315.30 C137.67,315.28 142.83,315.28 146.00,315.20 C149.17,315.12 152.67,315.02 155.00,314.80 C157.33,314.58 158.50,314.30 160.00,313.90 C161.50,313.50 162.57,313.12 164.00,312.40 C165.43,311.68 167.08,310.73 168.60,309.60 C170.12,308.47 171.58,307.10 173.10,305.60 C174.62,304.10 176.18,302.33 177.70,300.60 C179.22,298.87 180.82,296.83 182.20,295.20 C183.58,293.57 184.70,292.27 186.00,290.80 C187.30,289.33 187.67,288.90 190.00,286.40 C192.33,283.90 197.00,279.07 200.00,275.80 C203.00,272.53 205.08,270.00 208.00,266.80 C210.92,263.60 215.92,258.30 217.50,256.60" fill="none" stroke="#e8823a" stroke-width="1.1" stroke-linejoin="round"/>
<path d="M136.00,315.30 C137.67,315.28 142.83,315.28 146.00,315.20 C149.17,315.12 152.67,314.97 155.00,314.80 C157.33,314.63 158.33,314.53 160.00,314.20 C161.67,313.87 163.57,313.37 165.00,312.80 C166.43,312.23 167.25,311.55 168.60,310.80 C169.95,310.05 171.58,309.27 173.10,308.30 C174.62,307.33 176.18,306.23 177.70,305.00 C179.22,303.77 180.53,302.33 182.20,300.90 C183.87,299.47 185.57,298.12 187.70,296.40 C189.83,294.68 192.12,292.93 195.00,290.60 C197.88,288.27 201.25,285.27 205.00,282.40 C208.75,279.53 215.42,274.90 217.50,273.40" fill="none" stroke="#2b6ca8" stroke-width="1.1" stroke-linejoin="round"/>
<path d="M208.80,303.60 V309.40" stroke="#3a3a3a" stroke-width="0.85"/>
<text x="209.9" y="310.2" font-size="7.2" text-anchor="start" font-weight="normal" fill="#1c1c1c" stroke="#1c1c1c" stroke-width="0.12">to</text>
<path d="M238.8,253.2 V317.9 H328.2" fill="none" stroke="#8a8a8a" stroke-width="0.9"/>
<path d="M237.70000000000002,255.6 H238.8" stroke="#8a8a8a" stroke-width="0.5"/>
<text x="237.3" y="256.9" font-size="3.4" text-anchor="end" font-weight="bold" fill="#222222">7</text>
<path d="M237.70000000000002,264.2 H238.8" stroke="#8a8a8a" stroke-width="0.5"/>
<text x="237.3" y="265.5" font-size="3.4" text-anchor="end" font-weight="bold" fill="#222222">6</text>
<path d="M237.70000000000002,272.5 H238.8" stroke="#8a8a8a" stroke-width="0.5"/>
<text x="237.3" y="273.8" font-size="3.4" text-anchor="end" font-weight="bold" fill="#222222">5</text>
<path d="M237.70000000000002,280.9 H238.8" stroke="#8a8a8a" stroke-width="0.5"/>
<text x="237.3" y="282.2" font-size="3.4" text-anchor="end" font-weight="bold" fill="#222222">4</text>
<path d="M237.70000000000002,289.4 H238.8" stroke="#8a8a8a" stroke-width="0.5"/>
<text x="237.3" y="290.7" font-size="3.4" text-anchor="end" font-weight="bold" fill="#222222">3</text>
<path d="M237.70000000000002,297.8 H238.8" stroke="#8a8a8a" stroke-width="0.5"/>
<text x="237.3" y="299.1" font-size="3.4" text-anchor="end" font-weight="bold" fill="#222222">2</text>
<path d="M237.70000000000002,306.3 H238.8" stroke="#8a8a8a" stroke-width="0.5"/>
<text x="237.3" y="307.6" font-size="3.4" text-anchor="end" font-weight="bold" fill="#222222">1</text>
<path d="M237.70000000000002,315.0 H238.8" stroke="#8a8a8a" stroke-width="0.5"/>
<text x="237.3" y="316.3" font-size="3.4" text-anchor="end" font-weight="bold" fill="#222222">0</text>
<path d="M255.4,317.9 V319.0" stroke="#8a8a8a" stroke-width="0.5"/>
<text x="255.4" y="323" font-size="3.4" text-anchor="middle" font-weight="bold" fill="#222222">−40</text>
<path d="M270.6,317.9 V319.0" stroke="#8a8a8a" stroke-width="0.5"/>
<text x="270.6" y="323" font-size="3.4" text-anchor="middle" font-weight="bold" fill="#222222">−20</text>
<path d="M285.8,317.9 V319.0" stroke="#8a8a8a" stroke-width="0.5"/>
<text x="285.8" y="323" font-size="3.4" text-anchor="middle" font-weight="bold" fill="#222222">0</text>
<path d="M301.0,317.9 V319.0" stroke="#8a8a8a" stroke-width="0.5"/>
<text x="301.0" y="323" font-size="3.4" text-anchor="middle" font-weight="bold" fill="#222222">20</text>
<path d="M316.2,317.9 V319.0" stroke="#8a8a8a" stroke-width="0.5"/>
<text x="316.2" y="323" font-size="3.4" text-anchor="middle" font-weight="bold" fill="#222222">40</text>
<text x="0" y="0" font-size="3.9" font-weight="bold" fill="#151515" stroke="#151515" stroke-width="0.08" text-anchor="middle" transform="translate(232.75,286.4) rotate(-90)">Current (pA/pF)</text>
<text x="284.6" y="326.8" font-size="4.2" text-anchor="middle" font-weight="bold" fill="#151515" stroke="#151515" stroke-width="0.08">Voltage (mV)</text>
<path d="M242.60,315.60 C244.67,315.57 251.53,315.57 255.00,315.40 C258.47,315.23 260.90,314.90 263.40,314.60 C265.90,314.30 267.07,314.30 270.00,313.60 C272.93,312.90 277.57,311.57 281.00,310.40 C284.43,309.23 287.43,307.83 290.60,306.60 C293.77,305.37 296.13,304.85 300.00,303.00 C303.87,301.15 309.55,297.72 313.80,295.50 C318.05,293.28 323.55,290.67 325.50,289.70" fill="none" stroke="#e8823a" stroke-width="1.1" stroke-dasharray="1.7,0.85" stroke-linejoin="round"/>
<path d="M242.60,315.60 C244.67,315.57 251.53,315.57 255.00,315.40 C258.47,315.23 260.90,314.97 263.40,314.60 C265.90,314.23 267.07,314.02 270.00,313.20 C272.93,312.38 277.57,310.97 281.00,309.70 C284.43,308.43 287.43,307.05 290.60,305.60 C293.77,304.15 296.13,303.15 300.00,301.00 C303.87,298.85 309.55,295.18 313.80,292.70 C318.05,290.22 323.55,287.20 325.50,286.10" fill="none" stroke="#2b6ca8" stroke-width="1.1" stroke-dasharray="1.7,0.85" stroke-linejoin="round"/>
<path d="M242.60,315.60 C244.67,315.57 251.53,315.57 255.00,315.40 C258.47,315.23 260.90,315.13 263.40,314.60 C265.90,314.07 267.07,313.42 270.00,312.20 C272.93,310.98 277.57,309.33 281.00,307.30 C284.43,305.27 287.43,303.00 290.60,300.00 C293.77,297.00 296.13,293.27 300.00,289.30 C303.87,285.33 309.55,280.45 313.80,276.20 C318.05,271.95 323.55,265.87 325.50,263.80" fill="none" stroke="#e8823a" stroke-width="1.1" stroke-linejoin="round"/>
<path d="M242.60,315.60 C244.67,315.57 251.53,315.57 255.00,315.40 C258.47,315.23 260.90,315.20 263.40,314.60 C265.90,314.00 267.07,313.18 270.00,311.80 C272.93,310.42 277.57,308.60 281.00,306.30 C284.43,304.00 287.43,301.43 290.60,298.00 C293.77,294.57 296.13,290.48 300.00,285.70 C303.87,280.92 309.55,274.15 313.80,269.30 C318.05,264.45 323.55,258.72 325.50,256.60" fill="none" stroke="#2b6ca8" stroke-width="1.1" stroke-linejoin="round"/>
<path d="M317.80,303.60 V309.40" stroke="#3a3a3a" stroke-width="0.85"/>
<text x="318.9" y="310.2" font-size="7.2" text-anchor="start" font-weight="normal" fill="#1c1c1c" stroke="#1c1c1c" stroke-width="0.12">Kur</text>
<path d="M24.6,328.8 V390.8 H113.7" fill="none" stroke="#8a8a8a" stroke-width="0.9"/>
<path d="M23.5,341.2 H24.6" stroke="#8a8a8a" stroke-width="0.5"/>
<text x="23.1" y="342.5" font-size="3.4" text-anchor="end" font-weight="bold" fill="#222222">0.7</text>
<path d="M23.5,354.4 H24.6" stroke="#8a8a8a" stroke-width="0.5"/>
<text x="23.1" y="355.7" font-size="3.4" text-anchor="end" font-weight="bold" fill="#222222">0.6</text>
<path d="M23.5,367.7 H24.6" stroke="#8a8a8a" stroke-width="0.5"/>
<text x="23.1" y="369.0" font-size="3.4" text-anchor="end" font-weight="bold" fill="#222222">0.5</text>
<path d="M23.5,381.4 H24.6" stroke="#8a8a8a" stroke-width="0.5"/>
<text x="23.1" y="382.7" font-size="3.4" text-anchor="end" font-weight="bold" fill="#222222">0.4</text>
<path d="M36.6,390.8 V391.90000000000003" stroke="#8a8a8a" stroke-width="0.5"/>
<text x="36.6" y="395.1" font-size="3.4" text-anchor="middle" font-weight="bold" fill="#222222">−40</text>
<path d="M52.6,390.8 V391.90000000000003" stroke="#8a8a8a" stroke-width="0.5"/>
<text x="52.6" y="395.1" font-size="3.4" text-anchor="middle" font-weight="bold" fill="#222222">−20</text>
<path d="M68.6,390.8 V391.90000000000003" stroke="#8a8a8a" stroke-width="0.5"/>
<text x="68.6" y="395.1" font-size="3.4" text-anchor="middle" font-weight="bold" fill="#222222">0</text>
<path d="M84.6,390.8 V391.90000000000003" stroke="#8a8a8a" stroke-width="0.5"/>
<text x="84.6" y="395.1" font-size="3.4" text-anchor="middle" font-weight="bold" fill="#222222">20</text>
<path d="M100.6,390.8 V391.90000000000003" stroke="#8a8a8a" stroke-width="0.5"/>
<text x="100.6" y="395.1" font-size="3.4" text-anchor="middle" font-weight="bold" fill="#222222">40</text>
<text x="0" y="0" font-size="3.6" font-weight="bold" fill="#151515" stroke="#151515" stroke-width="0.08" text-anchor="middle" transform="translate(16.6,358.2) rotate(-90)">Factor</text>
<text x="69.4" y="398.8" font-size="4.2" text-anchor="middle" font-weight="bold" fill="#151515" stroke="#151515" stroke-width="0.08">Voltage (mV)</text>
<path d="M28.40,381.30 C29.87,381.25 33.98,381.15 37.20,381.00 C40.42,380.85 44.73,380.65 47.70,380.40 C50.67,380.15 52.48,379.90 55.00,379.50 C57.52,379.10 60.50,378.58 62.80,378.00 C65.10,377.42 66.77,376.83 68.80,376.00 C70.83,375.17 73.13,374.23 75.00,373.00 C76.87,371.77 78.40,370.15 80.00,368.60 C81.60,367.05 82.50,366.13 84.60,363.70 C86.70,361.27 89.87,357.18 92.60,354.00 C95.33,350.82 98.27,347.52 101.00,344.60 C103.73,341.68 107.67,337.85 109.00,336.50" fill="none" stroke="#e8823a" stroke-width="1.1" stroke-linejoin="round"/>
<path d="M69.1,365.0 V387.0" stroke="#9cc8a3" stroke-width="1.5"/>
<circle cx="69.1" cy="375.8" r="0.9" fill="#2d6e3e"/>
<path d="M76.9,347.8 V367.0" stroke="#9cc8a3" stroke-width="1.5"/>
<circle cx="76.9" cy="357.0" r="0.9" fill="#2d6e3e"/>
<path d="M84.8,358.5 V373.5" stroke="#9cc8a3" stroke-width="1.5"/>
<circle cx="84.8" cy="365.3" r="0.9" fill="#2d6e3e"/>
<path d="M92.8,344.0 V363.6" stroke="#9cc8a3" stroke-width="1.5"/>
<circle cx="92.8" cy="353.4" r="0.9" fill="#2d6e3e"/>
<path d="M100.9,337.6 V357.0" stroke="#9cc8a3" stroke-width="1.5"/>
<circle cx="100.9" cy="346.8" r="0.9" fill="#2d6e3e"/>
<path d="M108.8,329.5 V347.0" stroke="#9cc8a3" stroke-width="1.5"/>
<circle cx="108.8" cy="337.6" r="0.9" fill="#2d6e3e"/>
<path d="M100.20,376.20 V382.00" stroke="#3a3a3a" stroke-width="0.85"/>
<text x="101.3" y="382.8" font-size="7.2" text-anchor="start" font-weight="normal" fill="#1c1c1c" stroke="#1c1c1c" stroke-width="0.12">Ks</text>
<path d="M133.4,327.8 V390.8 H221.8" fill="none" stroke="#8a8a8a" stroke-width="0.9"/>
<path d="M132.3,329.3 H133.4" stroke="#8a8a8a" stroke-width="0.5"/>
<text x="131.9" y="330.6" font-size="3.4" text-anchor="end" font-weight="bold" fill="#222222">1.3</text>
<path d="M132.3,338.4 H133.4" stroke="#8a8a8a" stroke-width="0.5"/>
<text x="131.9" y="339.7" font-size="3.4" text-anchor="end" font-weight="bold" fill="#222222">1.2</text>
<path d="M132.3,347.5 H133.4" stroke="#8a8a8a" stroke-width="0.5"/>
<text x="131.9" y="348.8" font-size="3.4" text-anchor="end" font-weight="bold" fill="#222222">1.1</text>
<path d="M132.3,356.6 H133.4" stroke="#8a8a8a" stroke-width="0.5"/>
<text x="131.9" y="357.9" font-size="3.4" text-anchor="end" font-weight="bold" fill="#222222">1.0</text>
<path d="M132.3,365.7 H133.4" stroke="#8a8a8a" stroke-width="0.5"/>
<text x="131.9" y="367.0" font-size="3.4" text-anchor="end" font-weight="bold" fill="#222222">0.9</text>
<path d="M132.3,374.8 H133.4" stroke="#8a8a8a" stroke-width="0.5"/>
<text x="131.9" y="376.1" font-size="3.4" text-anchor="end" font-weight="bold" fill="#222222">0.8</text>
<path d="M132.3,383.5 H133.4" stroke="#8a8a8a" stroke-width="0.5"/>
<text x="131.9" y="384.8" font-size="3.4" text-anchor="end" font-weight="bold" fill="#222222">0.7</text>
<path d="M145.3,390.8 V391.90000000000003" stroke="#8a8a8a" stroke-width="0.5"/>
<text x="145.3" y="395.1" font-size="3.4" text-anchor="middle" font-weight="bold" fill="#222222">−40</text>
<path d="M161.3,390.8 V391.90000000000003" stroke="#8a8a8a" stroke-width="0.5"/>
<text x="161.3" y="395.1" font-size="3.4" text-anchor="middle" font-weight="bold" fill="#222222">−20</text>
<path d="M177.3,390.8 V391.90000000000003" stroke="#8a8a8a" stroke-width="0.5"/>
<text x="177.3" y="395.1" font-size="3.4" text-anchor="middle" font-weight="bold" fill="#222222">0</text>
<path d="M193.3,390.8 V391.90000000000003" stroke="#8a8a8a" stroke-width="0.5"/>
<text x="193.3" y="395.1" font-size="3.4" text-anchor="middle" font-weight="bold" fill="#222222">20</text>
<path d="M209.3,390.8 V391.90000000000003" stroke="#8a8a8a" stroke-width="0.5"/>
<text x="209.3" y="395.1" font-size="3.4" text-anchor="middle" font-weight="bold" fill="#222222">40</text>
<text x="0" y="0" font-size="3.6" font-weight="bold" fill="#151515" stroke="#151515" stroke-width="0.08" text-anchor="middle" transform="translate(125.4,358.2) rotate(-90)">Factor</text>
<text x="177.6" y="398.8" font-size="4.2" text-anchor="middle" font-weight="bold" fill="#151515" stroke="#151515" stroke-width="0.08">Voltage (mV)</text>
<path d="M136.3,357.2 H217.8" stroke="#e8823a" stroke-width="1.0"/>
<path d="M185.25,335.9 V388.0" stroke="#9cc8a3" stroke-width="1.5"/>
<circle cx="185.25" cy="361.2" r="0.9" fill="#2d6e3e"/>
<path d="M193.3,328.5 V377.5" stroke="#9cc8a3" stroke-width="1.5"/>
<circle cx="193.3" cy="353.0" r="0.9" fill="#2d6e3e"/>
<path d="M201.2,331.1 V375.8" stroke="#9cc8a3" stroke-width="1.5"/>
<circle cx="201.2" cy="353.0" r="0.9" fill="#2d6e3e"/>
<path d="M209.2,333.8 V377.5" stroke="#9cc8a3" stroke-width="1.5"/>
<circle cx="209.2" cy="356.5" r="0.9" fill="#2d6e3e"/>
<path d="M217.1,332.0 V374.9" stroke="#9cc8a3" stroke-width="1.5"/>
<circle cx="217.1" cy="353.0" r="0.9" fill="#2d6e3e"/>
<path d="M208.90,376.00 V381.80" stroke="#3a3a3a" stroke-width="0.85"/>
<text x="210.0" y="382.6" font-size="7.2" text-anchor="start" font-weight="normal" fill="#1c1c1c" stroke="#1c1c1c" stroke-width="0.12">to</text>
<path d="M241.8,328.8 V390.4 H330" fill="none" stroke="#8a8a8a" stroke-width="0.9"/>
<path d="M240.70000000000002,336.2 H241.8" stroke="#8a8a8a" stroke-width="0.5"/>
<text x="240.3" y="337.5" font-size="3.4" text-anchor="end" font-weight="bold" fill="#222222">1.1</text>
<path d="M240.70000000000002,343.9 H241.8" stroke="#8a8a8a" stroke-width="0.5"/>
<text x="240.3" y="345.2" font-size="3.4" text-anchor="end" font-weight="bold" fill="#222222">1.0</text>
<path d="M240.70000000000002,351.6 H241.8" stroke="#8a8a8a" stroke-width="0.5"/>
<text x="240.3" y="352.9" font-size="3.4" text-anchor="end" font-weight="bold" fill="#222222">0.9</text>
<path d="M240.70000000000002,359.1 H241.8" stroke="#8a8a8a" stroke-width="0.5"/>
<text x="240.3" y="360.4" font-size="3.4" text-anchor="end" font-weight="bold" fill="#222222">0.8</text>
<path d="M240.70000000000002,366.5 H241.8" stroke="#8a8a8a" stroke-width="0.5"/>
<text x="240.3" y="367.8" font-size="3.4" text-anchor="end" font-weight="bold" fill="#222222">0.7</text>
<path d="M240.70000000000002,373.9 H241.8" stroke="#8a8a8a" stroke-width="0.5"/>
<text x="240.3" y="375.2" font-size="3.4" text-anchor="end" font-weight="bold" fill="#222222">0.6</text>
<path d="M240.70000000000002,381.4 H241.8" stroke="#8a8a8a" stroke-width="0.5"/>
<text x="240.3" y="382.7" font-size="3.4" text-anchor="end" font-weight="bold" fill="#222222">0.5</text>
<path d="M240.70000000000002,388.8 H241.8" stroke="#8a8a8a" stroke-width="0.5"/>
<text x="240.3" y="390.1" font-size="3.4" text-anchor="end" font-weight="bold" fill="#222222">0.4</text>
<path d="M254.9,390.4 V391.5" stroke="#8a8a8a" stroke-width="0.5"/>
<text x="254.9" y="394.7" font-size="3.4" text-anchor="middle" font-weight="bold" fill="#222222">−40</text>
<path d="M270.3,390.4 V391.5" stroke="#8a8a8a" stroke-width="0.5"/>
<text x="270.3" y="394.7" font-size="3.4" text-anchor="middle" font-weight="bold" fill="#222222">−20</text>
<path d="M285.7,390.4 V391.5" stroke="#8a8a8a" stroke-width="0.5"/>
<text x="285.7" y="394.7" font-size="3.4" text-anchor="middle" font-weight="bold" fill="#222222">0</text>
<path d="M301.1,390.4 V391.5" stroke="#8a8a8a" stroke-width="0.5"/>
<text x="301.1" y="394.7" font-size="3.4" text-anchor="middle" font-weight="bold" fill="#222222">20</text>
<path d="M316.5,390.4 V391.5" stroke="#8a8a8a" stroke-width="0.5"/>
<text x="316.5" y="394.7" font-size="3.4" text-anchor="middle" font-weight="bold" fill="#222222">40</text>
<text x="0" y="0" font-size="3.6" font-weight="bold" fill="#151515" stroke="#151515" stroke-width="0.08" text-anchor="middle" transform="translate(234.3,358.2) rotate(-90)">Factor</text>
<text x="284.8" y="398.8" font-size="4.2" text-anchor="middle" font-weight="bold" fill="#151515" stroke="#151515" stroke-width="0.08">Voltage (mV)</text>
<path d="M245.3,353.0 H326.5" stroke="#f09f60" stroke-width="1.8"/>
<path d="M293.7,330.0 V387.7" stroke="#9cc8a3" stroke-width="1.5"/>
<circle cx="293.7" cy="358.8" r="0.9" fill="#2d6e3e"/>
<path d="M301.8,347.2 V384.0" stroke="#9cc8a3" stroke-width="1.5"/>
<circle cx="301.8" cy="365.7" r="0.9" fill="#2d6e3e"/>
<path d="M309.7,333.7 V371.2" stroke="#9cc8a3" stroke-width="1.5"/>
<circle cx="309.7" cy="352.8" r="0.9" fill="#2d6e3e"/>
<path d="M317.7,329.5 V364.5" stroke="#9cc8a3" stroke-width="1.5"/>
<circle cx="317.7" cy="346.8" r="0.9" fill="#2d6e3e"/>
<path d="M325.8,329.8 V361.5" stroke="#9cc8a3" stroke-width="1.5"/>
<circle cx="325.8" cy="345.7" r="0.9" fill="#2d6e3e"/>
<path d="M317.80,376.10 V381.90" stroke="#3a3a3a" stroke-width="0.85"/>
<text x="318.9" y="382.7" font-size="7.2" text-anchor="start" font-weight="normal" fill="#1c1c1c" stroke="#1c1c1c" stroke-width="0.12">Kur</text>
<text x="4.8" y="37.0" font-size="10.0" text-anchor="middle" font-weight="bold" fill="#111">A</text>
<text x="4.8" y="115.8" font-size="10.0" text-anchor="middle" font-weight="bold" fill="#111">B</text>
<text x="4.8" y="290.3" font-size="10.0" text-anchor="middle" font-weight="bold" fill="#111">A</text>
<text x="4.8" y="361.8" font-size="10.0" text-anchor="middle" font-weight="bold" fill="#111">B</text>
</svg>
</body></html>
